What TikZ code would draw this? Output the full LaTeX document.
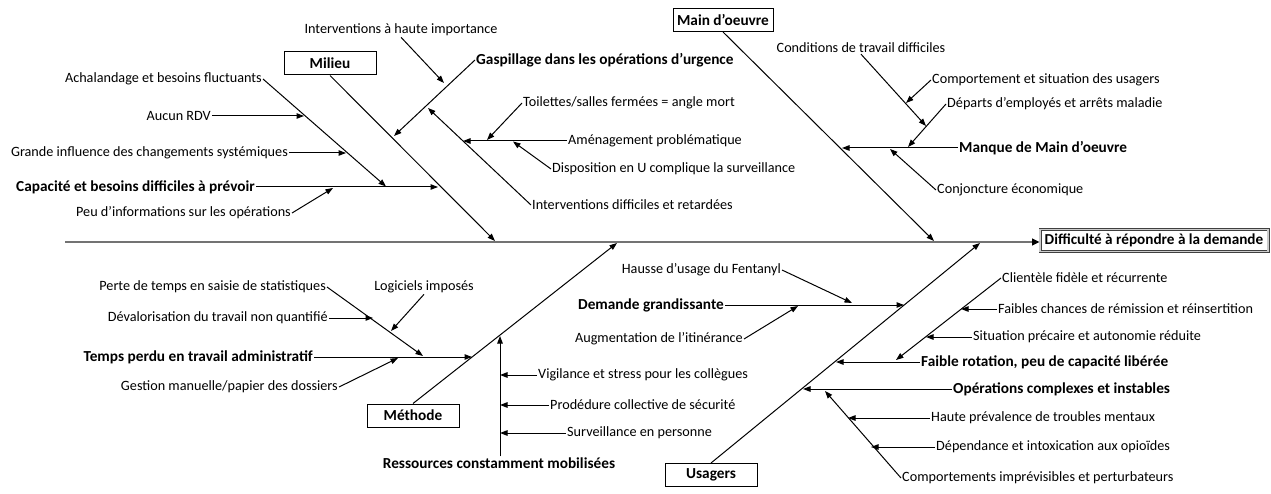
\documentclass[tikz,border=0pt]{standalone}
\usepackage{fontspec}
\setmainfont{Carlito}
\usetikzlibrary{arrows.meta}
\begin{document}
\begin{tikzpicture}[x=1pt,y=-1pt,
  txt/.style={font=\fontsize{14.2}{16}\selectfont, inner sep=1pt},
  btxt/.style={font=\fontsize{15.3}{17}\selectfont\bfseries, inner sep=1pt},
  cat/.style={draw=black, line width=1pt, font=\fontsize{15.3}{17}\selectfont\bfseries,
              minimum height=23pt, inner sep=0pt},
  arr/.style={line width=1pt, -{Triangle[length=7.5pt,width=5.5pt]}},
  spine/.style={line width=2.6pt, draw=black!55, -{Triangle[length=7.5pt,width=6.5pt,color=black]}},
  effect/.style={draw=black!75, double=black!20, double distance=1.6pt, line width=0.7pt,
                 font=\fontsize{15.2}{17}\selectfont\bfseries, minimum width=228pt,
                 minimum height=22pt, inner sep=0pt}
]
\fill[white] (0,0) rectangle (1271,494);
\useasboundingbox (0,0) rectangle (1271,494);

% ---------- spine and effect ----------
\node[effect] (eff) at (1154,240.5) {Difficulté à répondre à la demande};
\coordinate (s0) at (65,242);
\draw[spine] (s0) -- (s0 -| eff.west);

% ---------- category boxes ----------
\node[cat, minimum width=92pt] (mil) at (330,63.5) {Milieu};
\node[cat, minimum width=100pt] (mdo) at (723,20) {Main d’oeuvre};
\node[cat, minimum width=92pt] (met) at (413,415.5) {Méthode};
\node[cat, minimum width=92pt] (usa) at (711,475) {Usagers};

% spine arrow tips
\coordinate (tMil) at (495,241);
\coordinate (tMdo) at (934,241);
\coordinate (tMet) at (617,243);
\coordinate (tUsa) at (980,243);

\draw[arr] (mil.south) -- (tMil);
\draw[arr] (mdo.south) -- (tMdo);
\draw[arr] (met.north) -- (tMet);
\draw[arr] (usa.north) -- (tUsa);

% ---------- Milieu ----------
\node[txt, anchor=east] (achal) at (263,79) {Achalandage et besoins fluctuants};
\node[txt, anchor=east] (aucun) at (212,116) {Aucun RDV};
\node[txt, anchor=east] (grande) at (289,153) {Grande influence des changements systémiques};
\node[btxt, anchor=east] (capac) at (256,187) {Capacité et besoins difficiles à prévoir};
\node[txt, anchor=east] (peu) at (292,213) {Peu d’informations sur les opérations};
\node[txt] (inter) at (401,30) {Interventions à haute importance};
\node[btxt, anchor=west] (gasp) at (475,60) {Gaspillage dans les opérations d’urgence};
\node[txt, anchor=west] (idiff) at (531,205) {Interventions difficiles et retardées};
\node[txt, anchor=west] (amen) at (567,141) {Aménagement problématique};
\node[txt, anchor=west] (toil) at (522,103) {Toilettes/salles fermées = angle mort};
\node[txt, anchor=west] (dispo) at (551,169) {Disposition en U complique la surveillance};

\coordinate (tCapac) at (438,187);
\coordinate (tAchal) at (386,186.5);
\coordinate (tAucun) at (304,116);
\coordinate (tGrande) at (346,153);
\coordinate (tPeu) at (333,188);
\coordinate (tGasp) at (394,136);
\coordinate (tInter) at (444,83);
\coordinate (tIdiff) at (428,108);
\coordinate (tAmen) at (463,141);
\coordinate (tToil) at (487,140);
\coordinate (tDispo) at (513,141.5);

\draw[arr] (capac.east) -- (tCapac);
\draw[arr] (achal.east) -- (tAchal);
\draw[arr] (aucun.east) -- (tAucun);
\draw[arr] (grande.east) -- (tGrande);
\draw[arr] (peu.east) -- (tPeu);
\draw[arr] (gasp.west) -- (tGasp);
\draw[arr] (inter.south) -- (tInter);
\draw[arr] (idiff.west) -- (tIdiff);
\draw[arr] (amen.west) -- (tAmen);
\draw[arr] (toil.west) -- (tToil);
\draw[arr] (dispo.west) -- (tDispo);

% ---------- Main d'oeuvre ----------
\node[btxt, anchor=west] (manq) at (958,148) {Manque de Main d’oeuvre};
\node[txt] (condi) at (861,48) {Conditions de travail difficiles};
\node[txt, anchor=west] (compo) at (931,80) {Comportement et situation des usagers};
\node[txt, anchor=west] (depar) at (946,104) {Départs d’employés et arrêts maladie};
\node[txt, anchor=west] (conj) at (936,190) {Conjoncture économique};

\coordinate (tManq) at (842,148);
\coordinate (tCondi) at (926,126);
\coordinate (tCompo) at (906,103);
\coordinate (tDepar) at (908,147);
\coordinate (tConj) at (890,149);

\draw[arr] (manq.west) -- (tManq);
\draw[arr] (condi.south) -- (tCondi);
\draw[arr] (compo.west) -- (tCompo);
\draw[arr] (depar.west) -- (tDepar);
\draw[arr] (conj.west) -- (tConj);

% ---------- Méthode ----------
\node[btxt, anchor=east] (temps) at (314,357) {Temps perdu en travail administratif};
\node[txt, anchor=east] (perte) at (327,287) {Perte de temps en saisie de statistiques};
\node[txt] (logi) at (424,287) {Logiciels imposés};
\node[txt, anchor=east] (deval) at (329,318) {Dévalorisation du travail non quantifié};
\node[txt, anchor=east] (gest) at (339,387) {Gestion manuelle/papier des dossiers};
\node[btxt] (ress) at (499,463) {Ressources constamment mobilisées};
\node[txt, anchor=west] (vigi) at (537,375) {Vigilance et stress pour les collègues};
\node[txt, anchor=west] (prod) at (549,405) {Prodédure collective de sécurité};
\node[txt, anchor=west] (surv) at (566,433) {Surveillance en personne};

\coordinate (tTemps) at (472,357);
\coordinate (tPerte) at (423,356);
\coordinate (tLogi) at (391,331);
\coordinate (tDeval) at (373,318);
\coordinate (tGest) at (398,358);
\coordinate (tRess) at (500,336);
\coordinate (tVigi) at (500,375);
\coordinate (tProd) at (500,405);
\coordinate (tSurv) at (500,433);

\draw[arr] (temps.east) -- (tTemps);
\draw[arr] (perte.east) -- (tPerte);
\draw[arr] (logi.south) -- (tLogi);
\draw[arr] (deval.east) -- (tDeval);
\draw[arr] (gest.east) -- (tGest);
\draw[arr] (ress.north -| tRess) -- (tRess);
\draw[arr] (vigi.west) -- (tVigi);
\draw[arr] (prod.west) -- (tProd);
\draw[arr] (surv.west) -- (tSurv);

% ---------- Usagers ----------
\node[btxt, anchor=east] (deman) at (725,305) {Demande grandissante};
\node[txt, anchor=east] (hauss) at (782,270) {Hausse d’usage du Fentanyl};
\node[txt, anchor=east] (augm) at (744,339) {Augmentation de l’itinérance};
\node[btxt, anchor=west] (oper) at (952,389) {Opérations complexes et instables};
\node[btxt, anchor=west] (faib) at (920,362) {Faible rotation, peu de capacité libérée};
\node[txt, anchor=west] (clie) at (1001,278) {Clientèle fidèle et récurrente};
\node[txt, anchor=west] (fchan) at (997,309) {Faibles chances de rémission et réinsertition};
\node[txt, anchor=west] (situ) at (972,337) {Situation précaire et autonomie réduite};
\node[txt, anchor=west] (haute) at (930,418) {Haute prévalence de troubles mentaux};
\node[txt, anchor=west] (depen) at (935,447) {Dépendance et intoxication aux opioïdes};
\node[txt, anchor=west] (compi) at (901,478) {Comportements imprévisibles et perturbateurs};

\coordinate (tDeman) at (904,305);
\coordinate (tHauss) at (852,303);
\coordinate (tAugm) at (798,306);
\coordinate (tOper) at (803,389);
\coordinate (tFaib) at (836,362);
\coordinate (tClie) at (896,360);
\coordinate (tFchan) at (961,309);
\coordinate (tSitu) at (926,337);
\coordinate (tHaute) at (848,418);
\coordinate (tDepen) at (871,447);
\coordinate (tCompi) at (825,391);

\draw[arr] (deman.east) -- (tDeman);
\draw[arr] (hauss.east) -- (tHauss);
\draw[arr] (augm.east) -- (tAugm);
\draw[arr] (oper.west) -- (tOper);
\draw[arr] (faib.west) -- (tFaib);
\draw[arr] (clie.west) -- (tClie);
\draw[arr] (fchan.west) -- (tFchan);
\draw[arr] (situ.west) -- (tSitu);
\draw[arr] (haute.west) -- (tHaute);
\draw[arr] (depen.west) -- (tDepen);
\draw[arr] (compi.west) -- (tCompi);
\end{tikzpicture}
\end{document}
